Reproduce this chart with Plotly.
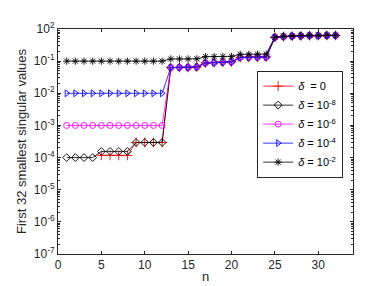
import plotly.graph_objects as go

n = list(range(1, 33))

# values
s_d0 = [None, None, None, None,
        1.17e-4, 1.17e-4, 1.17e-4, 1.17e-4,
        2.95e-4, 2.95e-4, 2.95e-4, 2.95e-4,
        0.063, 0.064, 0.064, 0.066,
        0.088, 0.090, 0.093, 0.095,
        0.130, 0.132, 0.133, 0.134,
        0.55, 0.58, 0.60, 0.61, 0.62, 0.62, 0.63, 0.63]
s_d8 = [1.0e-4, 1.0e-4, 1.0e-4, 1.0e-4,
        1.55e-4, 1.55e-4, 1.55e-4, 1.55e-4,
        2.95e-4, 2.95e-4, 2.95e-4, 2.95e-4,
        0.063, 0.064, 0.064, 0.066,
        0.088, 0.090, 0.093, 0.095,
        0.130, 0.132, 0.133, 0.134,
        0.55, 0.58, 0.60, 0.61, 0.62, 0.62, 0.63, 0.63]
s_d6 = [1.0e-3, 1.0e-3, 1.0e-3, 1.0e-3, 1.0e-3, 1.0e-3,
        1.0e-3, 1.0e-3, 1.0e-3, 1.0e-3, 1.0e-3, 1.0e-3,
        0.063, 0.064, 0.064, 0.066,
        0.088, 0.090, 0.093, 0.095,
        0.130, 0.132, 0.133, 0.134,
        0.55, 0.58, 0.60, 0.61, 0.62, 0.62, 0.63, 0.63]
s_d4 = [1.0e-2, 1.0e-2, 1.0e-2, 1.0e-2, 1.0e-2, 1.0e-2,
        1.0e-2, 1.0e-2, 1.0e-2, 1.0e-2, 1.0e-2, 1.0e-2,
        0.063, 0.064, 0.064, 0.066,
        0.088, 0.090, 0.093, 0.095,
        0.130, 0.132, 0.133, 0.134,
        0.55, 0.58, 0.60, 0.61, 0.62, 0.62, 0.63, 0.63]
s_d2 = [0.1, 0.1, 0.1, 0.1, 0.1, 0.1,
        0.1, 0.1, 0.1, 0.1, 0.1, 0.1,
        0.117, 0.117, 0.117, 0.118,
        0.138, 0.139, 0.140, 0.141,
        0.163, 0.164, 0.165, 0.166,
        0.56, 0.60, 0.61, 0.63, 0.64, 0.64, 0.64, 0.64]

series_names = ["<i>δ</i>  = 0", "<i>δ</i> = 10<sup>-8</sup>", "<i>δ</i> = 10<sup>-6</sup>",
                "<i>δ</i> = 10<sup>-4</sup>", "<i>δ</i> = 10<sup>-2</sup>"]
series_vals = [s_d0, s_d8, s_d6, s_d4, s_d2]

x_ticks = [0, 5, 10, 15, 20, 25, 30]
y_tickvals = [1e-7, 1e-6, 1e-5, 1e-4, 1e-3, 1e-2, 1e-1, 1e0]
y_ticktext = ["10<sup>-7</sup>", "10<sup>-6</sup>", "10<sup>-5</sup>", "10<sup>-4</sup>",
              "10<sup>-3</sup>", "10<sup>-2</sup>", "10<sup>-1</sup>", "10<sup>2</sup>"]

colors = ["#ff0000", "#000000", "#ff00ff", "#0000ff", "#000000"]
symbols = ["cross-thin-open", "diamond-open", "circle-open", "triangle-right-open", "asterisk-open"]
sizes = [7, 6, 6, 6, 6]

fig = go.Figure()
for name, vals, c, s, sz in zip(series_names, series_vals, colors, symbols, sizes):
    fig.add_trace(go.Scatter(
        x=n, y=vals, name=name, mode="lines+markers",
        line=dict(color=c, width=0.8),
        marker=dict(symbol=s, size=sz, color=c, line=dict(color=c, width=0.9)),
        connectgaps=False,
    ))

axis_col = "#262626"
fig.update_layout(
    width=382, height=286,
    margin=dict(l=50, r=37, t=21, b=40),
    paper_bgcolor="white", plot_bgcolor="white",
    font=dict(family="Liberation Sans, Arial, sans-serif", size=11, color=axis_col),
    showlegend=True,
    legend=dict(
        x=0.675, y=0.815, xanchor="left", yanchor="top",
        bgcolor="white", bordercolor=axis_col, borderwidth=1,
        font=dict(size=11, color="#000000"),
        tracegroupgap=0, itemwidth=30,
    ),
    xaxis=dict(
        range=[0, 34], tickmode="array", tickvals=x_ticks,
        ticks="inside", ticklen=3, tickcolor=axis_col,
        showline=True, linecolor=axis_col, linewidth=1, mirror="allticks",
        showgrid=False, zeroline=False, automargin=False,
        title=dict(text="n", font=dict(size=13), standoff=0),
        tickfont=dict(size=12),
    ),
    yaxis=dict(
        type="log", range=[-7, 0], tickmode="array",
        tickvals=y_tickvals, ticktext=y_ticktext,
        ticks="inside", ticklen=3, tickcolor=axis_col,
        showline=True, linecolor=axis_col, linewidth=1, mirror="allticks",
        showgrid=False, zeroline=False, automargin=False,
        minor=dict(ticks="inside", ticklen=2, tickcolor=axis_col, dtick="D1", showgrid=False),
        title=dict(text="First 32 smallest singular values", font=dict(size=13), standoff=4),
        tickfont=dict(size=12),
    ),
)

fig.write_html("out.html")
